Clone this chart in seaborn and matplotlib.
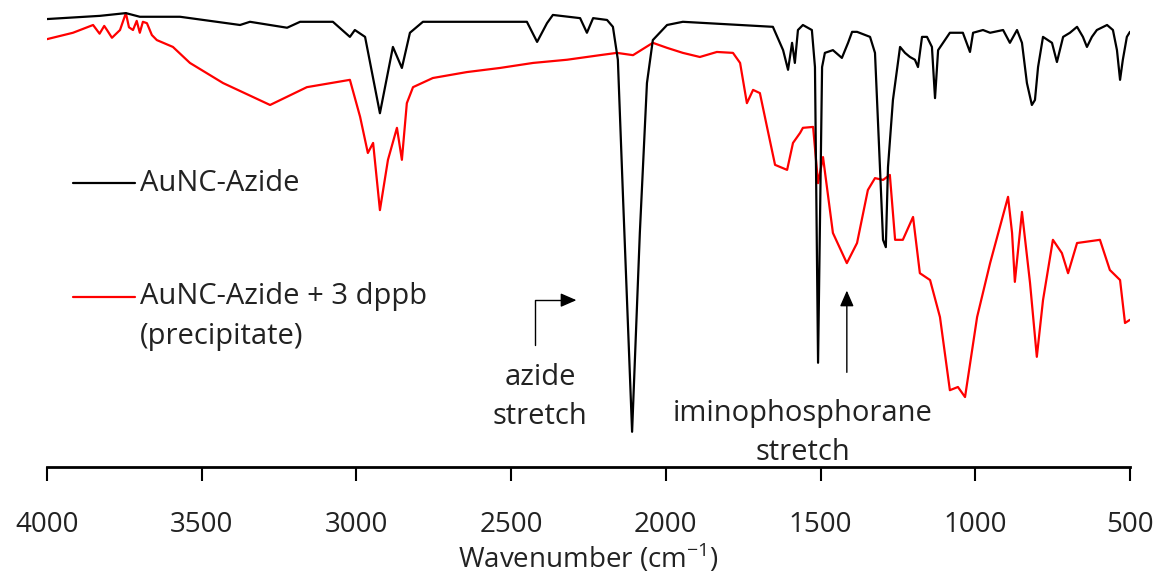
import matplotlib
matplotlib.use('Agg')
import matplotlib.pyplot as plt
import pandas as pd
import seaborn as sns

# AuNC-Azide (black), wavenumber (cm-1) and transmittance (a.u.)
azide_wn = [4000, 3829, 3745, 3700, 3570, 3376, 3344, 3224, 3182, 3076, 3021, 3005, 2972,
            2924, 2882, 2853, 2827, 2785, 2449, 2416, 2384, 2365, 2277, 2255, 2235, 2190,
            2171, 2155, 2138, 2109, 2084, 2061, 2042, 1996, 1945, 1654, 1621, 1605, 1592,
            1583, 1573, 1557, 1528, 1518, 1508, 1495, 1486, 1460, 1431, 1411, 1398, 1382,
            1340, 1324, 1308, 1298, 1289, 1282, 1266, 1243, 1227, 1211, 1195, 1185, 1172,
            1156, 1140, 1130, 1120, 1098, 1082, 1040, 1017, 1007, 975, 952, 910, 888, 865,
            849, 833, 817, 807, 797, 781, 752, 736, 716, 694, 671, 652, 639, 623, 607, 574,
            555, 542, 532, 523, 510, 500]
azide_t = [98.0, 98.7, 99.3, 98.5, 98.5, 96.7, 97.4, 96.1, 97.4, 97.4, 94.1, 95.6, 94.1,
           77.4, 91.9, 87.3, 95.0, 97.4, 97.4, 93.0, 97.1, 98.9, 98.2, 95.0, 98.2, 97.8,
           96.3, 89.1, 58.4, 7.7, 51.2, 84.0, 93.4, 96.7, 97.4, 96.3, 91.2, 86.9, 92.8,
           88.4, 95.6, 96.7, 95.6, 87.5, 22.8, 87.5, 90.6, 91.2, 89.5, 92.8, 95.2, 95.2,
           94.1, 90.6, 65.6, 49.7, 48.1, 65.6, 80.3, 91.9, 90.6, 89.7, 89.1, 87.5, 94.1,
           94.1, 91.9, 80.7, 91.2, 93.4, 95.0, 95.0, 90.8, 95.0, 95.6, 95.0, 95.6, 92.8, 95.6,
           92.8, 84.0, 79.2, 80.3, 87.5, 94.1, 92.8, 88.6, 94.1, 95.0, 96.3, 94.1, 91.9, 94.1,
           95.6, 96.7, 95.6, 91.2, 84.7, 89.1, 94.1, 95.2]

# AuNC-Azide + 3 dppb precipitate (red)
dppb_wn = [4000, 3916, 3851, 3830, 3815, 3806, 3790, 3764, 3745, 3735, 3722, 3710, 3700,
           3690, 3677, 3661, 3645, 3593, 3538, 3431, 3279, 3160, 3021, 2988, 2963, 2946,
           2924, 2898, 2869, 2853, 2837, 2817, 2753, 2643, 2536, 2429, 2319, 2213, 2158,
           2106, 2042, 1996, 1945, 1890, 1835, 1783, 1760, 1738, 1718, 1696, 1673, 1647,
           1608, 1589, 1566, 1557, 1524, 1508, 1492, 1460, 1415, 1382, 1347, 1324, 1298,
           1276, 1259, 1234, 1201, 1179, 1146, 1114, 1082, 1056, 1033, 994, 952, 894, 881,
           872, 849, 823, 801, 781, 749, 720, 700, 671, 597, 565, 532, 516, 500]
dppb_t = [93.6, 95.0, 96.7, 94.8, 96.5, 95.6, 93.9, 95.6, 99.3, 96.2, 95.6, 97.6, 95.0,
          97.4, 97.1, 94.5, 93.4, 91.9, 88.4, 84.0, 79.2, 83.1, 84.7, 76.6, 68.7, 70.9,
          56.2, 67.2, 74.2, 67.2, 79.6, 83.1, 85.1, 86.4, 87.3, 88.4, 89.1, 90.1, 90.6,
          90.1, 92.8, 91.7, 90.6, 89.7, 90.8, 90.6, 88.4, 79.6, 82.5, 81.8, 74.4, 66.1,
          65.0, 70.9, 73.1, 74.2, 74.4, 62.1, 67.8, 51.2, 44.6, 49.0, 60.6, 63.2, 62.8,
          63.9, 49.7, 49.7, 54.7, 42.4, 40.9, 32.8, 16.8, 17.5, 15.3, 32.8, 44.6, 59.1, 51.2,
          40.5, 55.8, 40.3, 24.1, 36.5, 49.7, 46.8, 42.4, 49.0, 49.7, 43.1, 40.9, 31.5, 32.2]

ticks = [4000, 3500, 3000, 2500, 2000, 1500, 1000, 500]

sns.set_theme(style='white')
plt.rcParams['font.family'] = ['Open Sans', 'DejaVu Sans']
plt.rcParams['mathtext.fontset'] = 'custom'
plt.rcParams['mathtext.rm'] = 'Open Sans'

fig = plt.figure(figsize=(11.6, 5.83), dpi=100)
ax = fig.add_axes([0.0405, 0.199, 0.9336, 0.784])

df1 = pd.DataFrame({'wn': azide_wn, 't': azide_t})
df2 = pd.DataFrame({'wn': dppb_wn, 't': dppb_t})
sns.lineplot(data=df2, x='wn', y='t', color='#ff0000', linewidth=1.6, ax=ax, estimator=None)
sns.lineplot(data=df1, x='wn', y='t', color='black', linewidth=1.6, ax=ax, estimator=None)

fs = 21
ax.set_xlim(4000, 500)
ax.set_ylim(0, 100)
ax.set_xticks(ticks)
ax.set_xticklabels([str(t) for t in ticks], fontsize=20, color='#222222')
ax.set_yticks([])
ax.set_ylabel('')
ax.set_xlabel('Wavenumber (cm$^{\\mathrm{-1}}$)', fontsize=20, color='#222222', labelpad=2)
for s in ['top', 'right', 'left']:
    ax.spines[s].set_visible(False)
ax.spines['bottom'].set_linewidth(2)
ax.spines['bottom'].set_color('black')
ax.tick_params(axis='x', direction='out', length=10, width=1.5, color='black', pad=22, bottom=True)

# legend drawn by hand, as in the original
ax.plot([3916, 3716], [62.1, 62.1], color='black', linewidth=1.6)
ax.text(3700, 62.1, 'AuNC-Azide', fontsize=fs, va='center', ha='left', color='#222222')
ax.plot([3916, 3716], [37.2, 37.2], color='#ff0000', linewidth=1.6)
ax.text(3700, 37.2, 'AuNC-Azide + 3 dppb', fontsize=fs, va='center', ha='left', color='#222222')
ax.text(3700, 28.6, '(precipitate)', fontsize=fs, va='center', ha='left', color='#222222')

# annotations
ax.plot([2423, 2423, 2300], [26.7, 36.5, 36.5], color='black', linewidth=1)
ax.annotate('', xy=(2280, 36.5), xytext=(2310, 36.5),
            arrowprops=dict(arrowstyle='-|>,head_length=0.8,head_width=0.35', color='black', lw=1))
ax.text(2407, 15.4, 'azide\nstretch', fontsize=fs, ha='center', va='center',
        color='#222222', linespacing=1.45)

ax.annotate('', xy=(1415, 39.2), xytext=(1415, 20.1),
            arrowprops=dict(arrowstyle='-|>,head_length=0.8,head_width=0.35', color='black', lw=1))
ax.text(1557, 7.4, 'iminophosphorane\nstretch', fontsize=fs, ha='center', va='center',
        color='#222222', linespacing=1.45)

plt.savefig('out.png', dpi=100)
plt.close()
